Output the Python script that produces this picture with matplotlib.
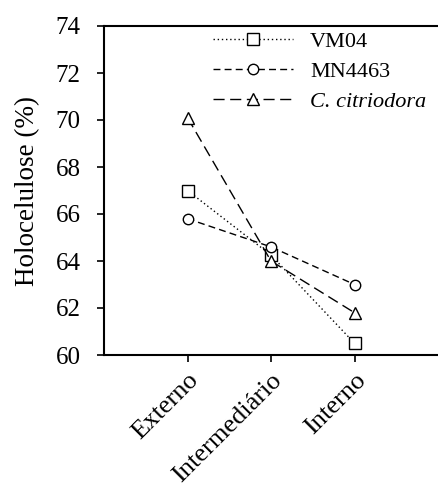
import matplotlib
matplotlib.use("Agg")
import matplotlib.pyplot as plt

plt.rcParams['font.family'] = ['Liberation Serif', 'DejaVu Serif']

positions = ["Externo", "Intermediário", "Interno"]
vm04 = [67.0, 64.25, 60.5]
mn4463 = [65.8, 64.6, 63.0]
citriodora = [70.1, 64.0, 61.8]
yticks = [60, 62, 64, 66, 68, 70, 72, 74]

fig = plt.figure(figsize=(4.38, 4.88), dpi=100)
ax = fig.add_axes([104/438, 1 - 355/488, 1 - 104/438, (355 - 26)/488])

x = [1, 2, 3]
mk = dict(color='black', markerfacecolor='white', markeredgecolor='black',
          linewidth=1.0, markeredgewidth=1.0)
ax.plot(x, vm04, linestyle=(0, (1, 2)), marker='s', markersize=8, label='VM04', **mk)
ax.plot(x, mn4463, linestyle=(0, (5, 3)), marker='o', markersize=7.5, label='MN4463', **mk)
ax.plot(x, citriodora, linestyle=(0, (8, 4)), marker='^', markersize=8.5,
        label='C. citriodora', **mk)

ax.set_xlim(0, 4)
ax.set_ylim(60, 74)
ax.set_yticks(yticks)
ax.set_yticklabels([str(v) for v in yticks], fontsize=18)
ax.set_xticks(x)
ax.set_xticklabels(positions, fontsize=19, rotation=45, ha='right',
                   rotation_mode='anchor')
ax.tick_params(direction='out', length=5, width=1.2)
ax.tick_params(axis='y', pad=12)
ax.tick_params(axis='x', pad=5)
for s in ['left', 'bottom', 'top']:
    ax.spines[s].set_linewidth(1.5)
ax.spines['right'].set_visible(False)

ax.set_ylabel('Holocelulose (%)', fontsize=19.5, labelpad=11)

leg = ax.legend(loc='upper left', bbox_to_anchor=(0.279, 1.03), frameon=False,
                fontsize=16, handlelength=3.6, handletextpad=0.78,
                labelspacing=0.42, borderaxespad=0.3, numpoints=1)
leg.get_texts()[2].set_fontstyle('italic')

fig.savefig('out.png', dpi=100)
